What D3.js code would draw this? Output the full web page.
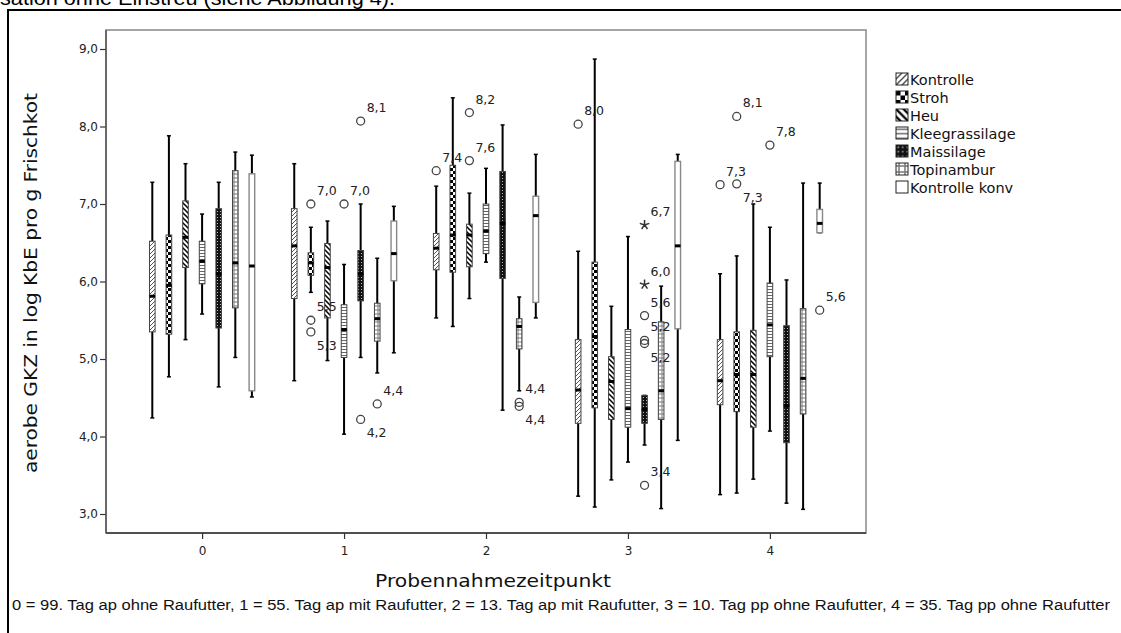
<!DOCTYPE html>
<html lang="de">
<head>
<meta charset="UTF-8">
<title>aerobe GKZ Boxplot</title>
<script src="https://cdn.jsdelivr.net/npm/d3@7"></script>
<style>
    body { margin: 0; background: #fff; }
    svg { display: block; }
    .tick text { font-family: "DejaVu Sans", Verdana, sans-serif; font-size: 12px; fill: #222; }
    .tick line { stroke: #333; stroke-width: 1.2; }
</style>
</head>
<body>
<div id="chart"></div>
<script>
// Messzeitpunkte und Gruppen
var categories = [0, 1, 2, 3, 4];
var series = ["Kontrolle", "Stroh", "Heu", "Kleegrassilage", "Maissilage", "Topinambur", "Kontrolle konv"];
var yTicks = [3, 4, 5, 6, 7, 8, 9];

// je Zeitpunkt: [Whisker unten, Q1, Median, Q3, Whisker oben]
var kontrolle     = [[4.24, 5.35, 5.81, 6.52, 7.28], [4.72, 5.78, 6.46, 6.94, 7.52], [5.53, 6.15, 6.43, 6.62, 7.23], [3.23, 4.17, 4.60, 5.25, 6.39], [3.25, 4.41, 4.72, 5.25, 6.10]];
var stroh         = [[4.77, 5.32, 5.95, 6.60, 7.88], [5.86, 6.08, 6.24, 6.37, 6.70], [5.42, 6.12, 6.60, 7.50, 8.37], [3.09, 4.37, 5.29, 6.25, 8.87], [3.27, 4.32, 4.80, 5.35, 6.33]];
var heu           = [[5.25, 6.18, 6.57, 7.04, 7.52], [4.98, 5.53, 6.18, 6.49, 6.78], [5.78, 6.19, 6.60, 6.74, 7.14], [3.44, 4.22, 4.71, 5.03, 5.68], [3.45, 4.12, 4.80, 5.37, 7.00]];
var kleegras      = [[5.58, 5.97, 6.26, 6.52, 6.87], [4.03, 5.02, 5.38, 5.70, 6.22], [6.25, 6.36, 6.65, 7.00, 7.46], [3.67, 4.12, 4.36, 5.38, 6.58], [4.07, 5.03, 5.44, 5.98, 6.70]];
var maissilage    = [[4.64, 5.40, 6.10, 6.94, 7.28], [5.02, 5.75, 6.10, 6.40, 7.00], [4.34, 6.04, 6.75, 7.42, 8.02], [3.89, 4.17, 4.35, 4.53, 4.53], [3.14, 3.92, 4.40, 5.43, 6.02]];
var topinambur    = [[5.02, 5.66, 6.24, 7.43, 7.67], [4.82, 5.23, 5.52, 5.72, 6.30], [4.59, 5.13, 5.42, 5.52, 5.80], [3.07, 4.22, 4.59, 5.48, 5.94], [3.06, 4.29, 4.75, 5.65, 7.27]];
var kontrolleKonv = [[4.51, 4.59, 6.20, 7.39, 7.63], [5.08, 6.01, 6.36, 6.78, 6.97], [5.53, 5.73, 6.85, 7.10, 7.64], [3.95, 5.39, 6.46, 7.55, 7.64], [6.63, 6.63, 6.75, 6.93, 7.27]];
var boxValues = [kontrolle, stroh, heu, kleegras, maissilage, topinambur, kontrolleKonv];

// Ausreisser: [Zeitpunkt, Gruppe, Wert, Beschriftung, Symbol, Beschriftung unten]
var outliers = [
    [1, 1, 7.00, "7,0", "o", false], [1, 1, 5.50, "5,5", "o", false], [1, 1, 5.35, "5,3", "o", true],
    [1, 3, 7.00, "7,0", "o", false],
    [1, 4, 8.07, "8,1", "o", false], [1, 4, 4.22, "4,2", "o", true],
    [1, 5, 4.42, "4,4", "o", false],
    [2, 0, 7.43, "7,4", "o", false],
    [2, 2, 8.18, "8,2", "o", false], [2, 2, 7.56, "7,6", "o", false],
    [2, 5, 4.44, "4,4", "o", false], [2, 5, 4.39, "4,4", "o", true],
    [3, 0, 8.03, "8,0", "o", false],
    [3, 4, 6.73, "6,7", "*", false], [3, 4, 5.96, "6,0", "*", false], [3, 4, 5.56, "5,6", "o", false],
    [3, 4, 5.24, "5,2", "o", false], [3, 4, 5.20, "5,2", "o", true], [3, 4, 3.37, "3,4", "o", false],
    [4, 0, 7.25, "7,3", "o", false],
    [4, 1, 8.13, "8,1", "o", false], [4, 1, 7.26, "7,3", "o", true],
    [4, 3, 7.76, "7,8", "o", false],
    [4, 6, 5.63, "5,6", "o", false]
];

var footnote = "0 = 99. Tag ap ohne Raufutter, 1 = 55. Tag ap mit Raufutter, 2 = 13. Tag ap mit Raufutter, 3 = 10. Tag pp ohne Raufutter, 4 = 35. Tag pp ohne Raufutter";

var width = 1121;
var height = 633;
var plot = {left: 106, right: 866, top: 30, bottom: 533};

var svg = d3.select("#chart")
    .append("svg")
    .attr("width", width)
    .attr("height", height);

// Muster fuer die Gruppen
var defs = svg.append("defs");
function makePattern(id, size, scale, draw) {
    var p = defs.append("pattern")
        .attr("id", id)
        .attr("patternUnits", "userSpaceOnUse")
        .attr("width", size)
        .attr("height", size)
        .attr("patternTransform", "scale(" + scale + ")");
    p.append("rect").attr("width", size).attr("height", size).attr("fill", "#fff");
    draw(p);
}
var patternDraw = [
    function (p) { p.append("path").attr("d", "M-1,1 l2,-2 M0,4 l4,-4 M3,5 l2,-2").attr("stroke", "#555").attr("stroke-width", 1); },
    function (p) { p.append("rect").attr("width", 3).attr("height", 3).attr("fill", "#000");
                   p.append("rect").attr("x", 3).attr("y", 3).attr("width", 3).attr("height", 3).attr("fill", "#000"); },
    function (p) { p.append("path").attr("d", "M0,0 l5,5 M-1,4 l2,2 M4,-1 l2,2").attr("stroke", "#000").attr("stroke-width", 1.5); },
    function (p) { p.append("path").attr("d", "M0,1.5 h3").attr("stroke", "#666").attr("stroke-width", 1); },
    function (p) { p.append("rect").attr("width", 3).attr("height", 3).attr("fill", "#111");
                   p.append("rect").attr("x", 1).attr("y", 1).attr("width", 1).attr("height", 1).attr("fill", "#bbb"); },
    function (p) { p.append("path").attr("d", "M0,2 h4 M2,0 v4").attr("stroke", "#777").attr("stroke-width", 1); },
    function (p) { }
];
var patternSize = [4, 6, 5, 3, 3, 4, 4];
series.forEach(function (s, i) {
    makePattern("pb" + i, patternSize[i], 1, patternDraw[i]);
    makePattern("pl" + i, patternSize[i], 1.5, patternDraw[i]);
});

// Skalen
var xScale = d3.scaleLinear()
    .domain([-0.677, 4.677])
    .range([plot.left, plot.right]);

var yScale = d3.scaleLinear()
    .domain([3, 9])
    .range([514, 49]);

var offset = d3.scaleBand()
    .domain(series)
    .range([-58.1, 58.1]);

var boxWidth = 5.6;

// Rahmen aussen und Text oben
svg.append("path")
    .attr("d", "M8," + height + " V10 H" + width)
    .attr("fill", "none")
    .attr("stroke", "#000")
    .attr("stroke-width", 2);

svg.append("text")
    .attr("x", 0)
    .attr("y", 5)
    .attr("font-family", "Liberation Sans, Arial, sans-serif")
    .attr("font-size", 20)
    .attr("textLength", 395)
    .attr("lengthAdjust", "spacingAndGlyphs")
    .text("sation ohne Einstreu (siehe Abbildung 4).");

// Diagrammrahmen
svg.append("rect")
    .attr("x", plot.left)
    .attr("y", plot.top)
    .attr("width", plot.right - plot.left)
    .attr("height", plot.bottom - plot.top)
    .attr("fill", "none")
    .attr("stroke", "#888")
    .attr("stroke-width", 1.5);

// Achsen
var yAxis = d3.axisLeft(yScale)
    .tickValues(yTicks)
    .tickSize(6)
    .tickSizeOuter(0)
    .tickFormat(function (d) { return d.toFixed(1).replace(".", ","); });

var xAxis = d3.axisBottom(xScale)
    .tickValues(categories)
    .tickSize(6)
    .tickSizeOuter(0)
    .tickFormat(function (d) { return d; });

var gy = svg.append("g")
    .attr("transform", "translate(" + plot.left + ",0)")
    .call(yAxis);
gy.select(".domain").remove();
gy.selectAll(".tick text").attr("x", -8);

var gx = svg.append("g")
    .attr("transform", "translate(0," + plot.bottom + ")")
    .call(xAxis);
gx.select(".domain").remove();
gx.selectAll(".tick text").attr("y", 13);

svg.append("line")
    .attr("x1", plot.left).attr("x2", plot.right)
    .attr("y1", plot.bottom).attr("y2", plot.bottom)
    .attr("stroke", "#333").attr("stroke-width", 1.5);
svg.append("line")
    .attr("x1", plot.left).attr("x2", plot.left)
    .attr("y1", plot.top).attr("y2", plot.bottom)
    .attr("stroke", "#555").attr("stroke-width", 1.5);

// Achsentitel
svg.append("text")
    .attr("transform", "translate(37,283) rotate(-90)")
    .attr("text-anchor", "middle")
    .attr("font-family", "DejaVu Sans, Verdana, sans-serif")
    .attr("font-size", 17)
    .attr("textLength", 380)
    .attr("lengthAdjust", "spacingAndGlyphs")
    .attr("fill", "#111")
    .text("aerobe GKZ in log KbE pro g Frischkot");

svg.append("text")
    .attr("x", 493)
    .attr("y", 587)
    .attr("text-anchor", "middle")
    .attr("font-family", "DejaVu Sans, Verdana, sans-serif")
    .attr("font-size", 17)
    .attr("textLength", 236)
    .attr("lengthAdjust", "spacingAndGlyphs")
    .attr("fill", "#111")
    .text("Probennahmezeitpunkt");

svg.append("text")
    .attr("x", 12)
    .attr("y", 610)
    .attr("font-family", "Liberation Sans Narrow, Liberation Sans, Arial, sans-serif")
    .attr("font-size", 14)
    .attr("textLength", 1098)
    .attr("lengthAdjust", "spacingAndGlyphs")
    .attr("fill", "#111")
    .text(footnote);

// Boxplots
var boxes = [];
boxValues.forEach(function (vals, si) {
    vals.forEach(function (v, ti) {
        boxes.push({s: si, t: ti, v: v});
    });
});

function cx(d) { return xScale(categories[d.t]) + offset(series[d.s]) + offset.bandwidth() / 2; }

var g = svg.selectAll("g.box")
    .data(boxes)
    .enter()
    .append("g")
    .attr("class", "box");

g.append("line")
    .attr("x1", cx).attr("x2", cx)
    .attr("y1", function (d) { return yScale(d.v[0]); })
    .attr("y2", function (d) { return yScale(d.v[4]); })
    .attr("stroke", "#000")
    .attr("stroke-width", 2);

g.each(function (d) {
    var sel = d3.select(this);
    [d.v[0], d.v[4]].forEach(function (w) {
        sel.append("line")
            .attr("x1", cx(d) - 2).attr("x2", cx(d) + 2)
            .attr("y1", yScale(w)).attr("y2", yScale(w))
            .attr("stroke", "#000")
            .attr("stroke-width", 1.5);
    });
});

g.append("rect")
    .attr("x", function (d) { return cx(d) - boxWidth / 2; })
    .attr("y", function (d) { return yScale(d.v[3]); })
    .attr("width", boxWidth)
    .attr("height", function (d) { return yScale(d.v[1]) - yScale(d.v[3]); })
    .attr("fill", function (d) { return "url(#pb" + d.s + ")"; })
    .attr("stroke", function (d) { return d.s === 6 ? "#888" : "#444"; })
    .attr("stroke-width", function (d) { return d.s === 6 ? 1.4 : 1; });

g.append("line")
    .attr("x1", function (d) { return cx(d) - boxWidth / 2; })
    .attr("x2", function (d) { return cx(d) + boxWidth / 2; })
    .attr("y1", function (d) { return yScale(d.v[2]); })
    .attr("y2", function (d) { return yScale(d.v[2]); })
    .attr("stroke", "#000")
    .attr("stroke-width", 3);

// Ausreisser und Extremwerte
var og = svg.selectAll("g.outlier")
    .data(outliers)
    .enter()
    .append("g")
    .attr("class", "outlier")
    .attr("transform", function (d) {
        return "translate(" + cx({t: d[0], s: d[1]}) + "," + yScale(d[2]) + ")";
    });

og.filter(function (d) { return d[4] === "o"; })
    .append("circle")
    .attr("r", 4)
    .attr("fill", "none")
    .attr("stroke", "#444")
    .attr("stroke-width", 1.3);

og.filter(function (d) { return d[4] === "*"; })
    .append("path")
    .attr("d", function () {
        var p = d3.path();
        for (var k = 0; k < 5; k++) {
            var a = -Math.PI / 2 + k * 2 * Math.PI / 5;
            p.moveTo(0, 0);
            p.lineTo(5 * Math.cos(a), 5 * Math.sin(a));
        }
        return p.toString();
    })
    .attr("stroke", "#333")
    .attr("stroke-width", 1.5);

og.append("text")
    .attr("x", 6)
    .attr("y", function (d) { return d[5] ? 18 : -9; })
    .attr("font-family", "DejaVu Sans, Verdana, sans-serif")
    .attr("font-size", 12.5)
    .attr("fill", "#222")
    .text(function (d) { return d[3]; });

// Legende
var legend = svg.selectAll("g.legend")
    .data(series)
    .enter()
    .append("g")
    .attr("class", "legend")
    .attr("transform", function (d, i) { return "translate(896," + (73 + i * 18) + ")"; });

legend.append("rect")
    .attr("width", 12)
    .attr("height", 12)
    .attr("fill", function (d, i) { return "url(#pl" + i + ")"; })
    .attr("stroke", "#222")
    .attr("stroke-width", 1);

legend.append("text")
    .attr("x", 14)
    .attr("y", 11.5)
    .attr("font-family", "DejaVu Sans, Verdana, sans-serif")
    .attr("font-size", 14.5)
    .attr("fill", "#111")
    .text(function (d) { return d; });
</script>
</body>
</html>
